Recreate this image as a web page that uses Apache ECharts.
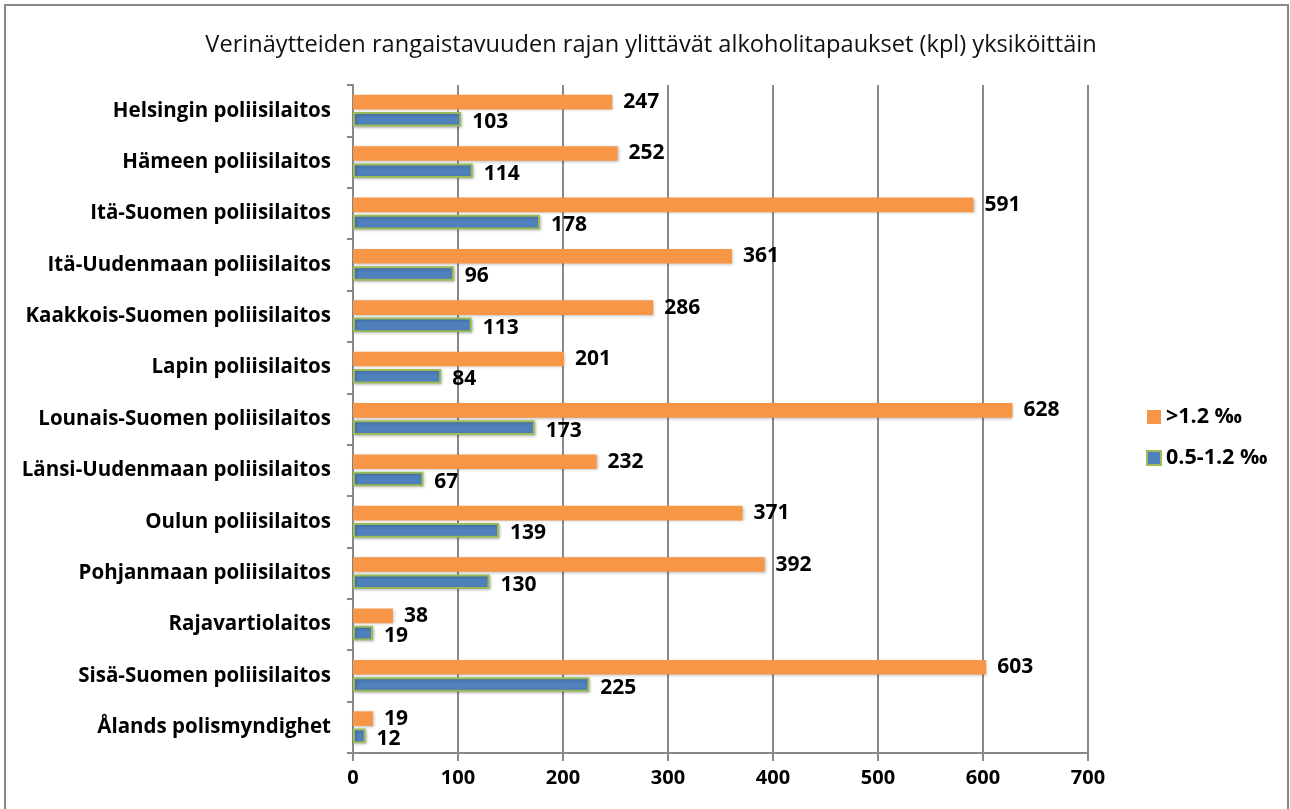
<!DOCTYPE html>
<html><head><meta charset="utf-8">
<script src="https://cdn.jsdelivr.net/npm/echarts@6/dist/echarts.min.js"></script>
<style>html,body{margin:0;padding:0;background:#fff}#c{width:1290px;height:809px}</style>
</head><body><div id="c"></div>
<script>
const categories = ["Helsingin poliisilaitos","Hämeen poliisilaitos","Itä-Suomen poliisilaitos","Itä-Uudenmaan poliisilaitos","Kaakkois-Suomen poliisilaitos","Lapin poliisilaitos","Lounais-Suomen poliisilaitos","Länsi-Uudenmaan poliisilaitos","Oulun poliisilaitos","Pohjanmaan poliisilaitos","Rajavartiolaitos","Sisä-Suomen poliisilaitos","Ålands polismyndighet"];
const high = [247,252,591,361,286,201,628,232,371,392,38,603,19];
const low = [103,114,178,96,113,84,173,67,139,130,19,225,12];
const seriesNames = [">1.2 ‰","0.5-1.2 ‰"];
const title = "Verinäytteiden rangaistavuuden rajan ylittävät alkoholitapaukset (kpl) yksiköittäin";

const F = "'Open Sans', Lato, sans-serif";
const chart = echarts.init(document.getElementById('c'), null, {renderer:'canvas'});
const lbl = {show:true, position:'right', distance:11, color:'#000', fontWeight:'bold', fontSize:21, fontFamily:F};
chart.setOption({
  animation:false,
  graphic:[{type:'rect', shape:{x:5,y:5,width:1283,height:820}, style:{fill:'none', stroke:'#888', lineWidth:2}}],
  title:{text:title, left:646, textAlign:'center', top:28, textStyle:{fontFamily:F, fontWeight:'normal', fontSize:23.6, color:'#111'}},
  legend:{orient:'vertical', left:1141, top:401, itemGap:19, itemWidth:14, itemHeight:14, icon:'rect',
    textStyle:{fontFamily:F, fontWeight:'bold', fontSize:21.5, color:'#000'},
    data:seriesNames},
  grid:{left:353, right:202, top:85, bottom:56},
  xAxis:{type:'value', min:0, max:700, interval:100,
    axisLine:{show:true, lineStyle:{color:'#898989', width:2}},
    axisTick:{show:true, length:8, lineStyle:{color:'#898989', width:2}},
    splitLine:{show:true, lineStyle:{color:'#898989', width:2}},
    axisLabel:{margin:15, color:'#000', fontWeight:'bold', fontSize:20, fontFamily:F}},
  yAxis:{type:'category', data:categories, inverse:true,
    axisLine:{show:true, lineStyle:{color:'#898989', width:2}},
    axisTick:{show:true, length:6, lineStyle:{color:'#898989', width:2}},
    axisLabel:{margin:22, color:'#000', fontWeight:'bold', fontSize:20.5, fontFamily:F}},
  series:[
    {name:seriesNames[0], type:'bar', data:high, barGap:'18%', barCategoryGap:'38%',
     itemStyle:{color:'#F79646', shadowColor:'rgba(0,0,0,0.25)', shadowBlur:3, shadowOffsetX:1, shadowOffsetY:1},
     label:lbl},
    {name:seriesNames[1], type:'bar', data:low, barGap:'18%', barCategoryGap:'38%',
     itemStyle:{color:'#4F81BD', borderColor:'#9BBB59', borderWidth:2, shadowColor:'rgba(0,0,0,0.25)', shadowBlur:3, shadowOffsetX:1, shadowOffsetY:1},
     label:Object.assign({}, lbl, {offset:[0,3]})}
  ]
});
</script></body></html>
